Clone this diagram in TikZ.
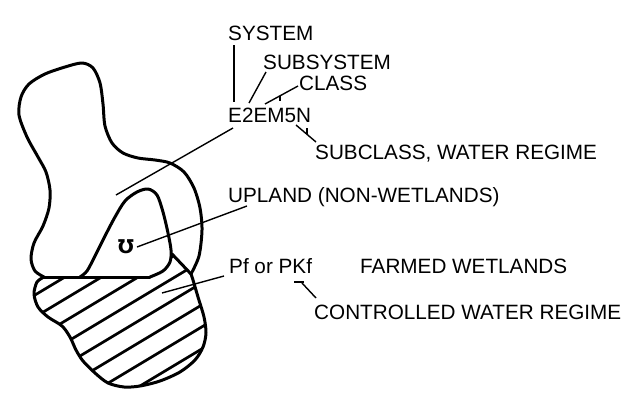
\documentclass[tikz,border=0pt]{standalone}
\usepackage{fontspec}
\setmainfont{Liberation Sans}
\newfontfamily\symfont{DejaVu Sans}
\begin{document}
\begin{tikzpicture}[x=1pt,y=-1pt,
  lbl/.style={anchor=base west, inner sep=0pt, font=\fontsize{20.7}{24}\selectfont},
  outline/.style={line width=3pt, line join=round, line cap=round},
  lead/.style={line width=1.4pt},
  hatchline/.style={line width=2.7pt}]
\useasboundingbox (0,0) rectangle (633,399);

% ---- texts ----
\node[lbl] (system) at (228,40) {SYSTEM};
\node[lbl] (subsystem) at (263,69) {SUBSYSTEM};
\node[lbl] (class) at (299,90) {CLASS};
\node[lbl] (code) at (228,122) {E2EM5N};
\node[lbl] (subclass) at (315,159) {SUBCLASS, WATER REGIME};
\node[lbl] (upland) at (228,202) {UPLAND (NON-WETLANDS)};
\node[lbl] (farm) at (229,273) {Pf or PKf};
\node[lbl] (farmed) at (360,273) {FARMED WETLANDS};
\node[lbl] (controlled) at (314,319) {CONTROLLED WATER REGIME};
\node[font=\symfont\bfseries\fontsize{19}{19}\selectfont, inner sep=0pt] (mho) at (126,247) {℧};

% ---- hatching of farmed wetland ----
\begin{scope}
\clip (42,277) -- (150,277)
  -- plot[smooth] coordinates {(150,277) (163,271) (170,262) (172,254)}
  -- (191,274)
  -- plot[smooth] coordinates {(191,274) (193,280) (198,297) (204,317) (206,333) (203,347) (195,360) (180,372) (160,381) (140,386) (124,387) (108,383) (95,373) (83,361) (76,350) (70,337) (62,326) (48,317) (38,307) (34,294) (37,282) (42,277)}
  -- cycle;
\foreach \c in {316,338,...,470} {
  \draw[hatchline] (0,\c) -- (260,\c-0.6*260);
}
\end{scope}

% ---- outlines ----
% upper wetland blob
\draw[outline] plot[smooth] coordinates {(44,277) (35,271) (31,259) (34,243) (43,226) (49,208) (50,190) (46,172) (38,157) (27,137) (19,115) (21,97) (29,84) (45,74) (65,67) (82,63) (93,68) (100,83) (103,104) (105,126) (112,143) (123,153) (138,158) (155,160) (170,163) (184,172) (194,188) (200,208) (202,230) (199,256) (191,274)};
% farmed wetland outer edge
\draw[outline] plot[smooth] coordinates {(191,274) (193,280) (198,297) (204,317) (206,333) (203,347) (195,360) (180,372) (160,381) (140,386) (124,387) (108,383) (95,373) (83,361) (76,350) (70,337) (62,326) (48,317) (38,307) (34,294) (37,282) (44,277)};
% bottom straight edge
\draw[outline] (44,277) -- (150,277);
% upland island
\draw[outline] plot[smooth] coordinates {(80,277) (87,271) (95,256) (105,236) (115,217) (125,201) (137,192) (148,189) (157,195) (163,212) (168,233) (171,250) (170,262) (163,271) (150,277)};
% edge between upland and farmed wetland
\coordinate (dA) at (172,254);
\coordinate (dB) at (191,274);
\draw[outline] (dA) -- (dB);

% ---- leaders ----
\coordinate (sysA) at (234,45);
\coordinate (sysB) at (234,102);
\draw[lead] (sysA) -- (sysB);
\coordinate (subA) at (266,72);
\coordinate (subB) at (249,103);
\draw[lead] (subA) -- (subB);
\coordinate (clA) at (298,86);
\coordinate (clB) at (265,104);
\coordinate (clT1) at (280,95.8);
\coordinate (clT2) at (280,101);
\draw[lead] (clA) -- (clB);
\draw[lead] (clT1) -- (clT2);
\coordinate (scA) at (296,125);
\coordinate (scB) at (316,142);
\coordinate (scT1) at (307,134.4);
\coordinate (scT2) at (307,128);
\draw[lead] (scA) -- (scB);
\draw[lead] (scT1) -- (scT2);
\coordinate (codeA) at (233,128);
\coordinate (codeB) at (116,195);
\draw[lead] (codeA) -- (codeB);
\coordinate (upA) at (247,206);
\coordinate (upB) at (137,247);
\draw[lead] (upA) -- (upB);
\coordinate (fA) at (224,276);
\coordinate (fB) at (162,293);
\draw[lead] (fA) -- (fB);
\coordinate (kA) at (294,282);
\coordinate (kB) at (304,282);
\draw[lead] (kA) -- (kB);
\coordinate (kC) at (302,283);
\coordinate (kD) at (316,298);
\draw[lead] (kC) -- (kD);
\end{tikzpicture}
\end{document}
